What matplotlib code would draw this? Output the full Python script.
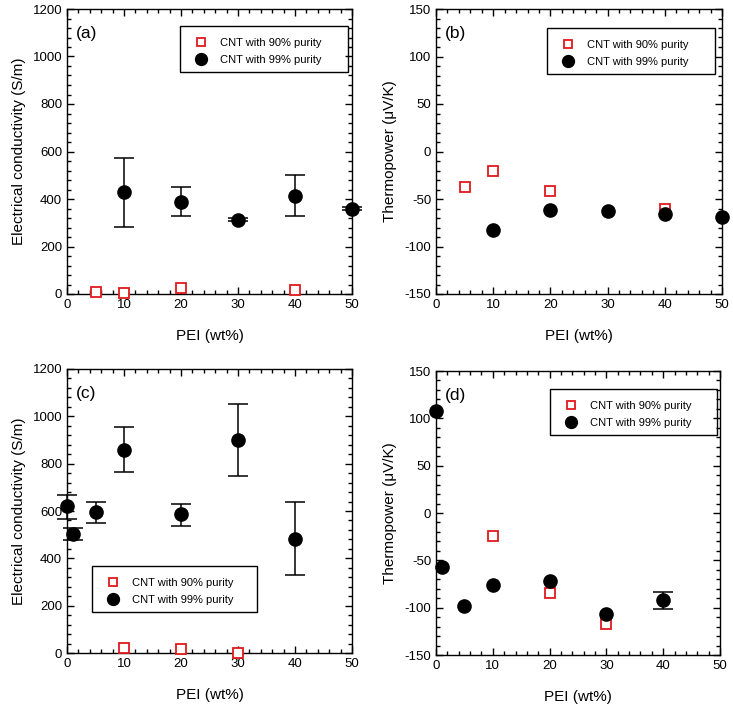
import numpy as np
import matplotlib
matplotlib.use("Agg")
import matplotlib.pyplot as plt
from matplotlib.ticker import MultipleLocator
from matplotlib.patches import Rectangle

plt.rcParams['font.family'] = ['Liberation Sans', 'DejaVu Sans']
plt.rcParams['axes.unicode_minus'] = False

# (a) electrical conductivity
a_x90 = [5, 10, 20, 40]
a_y90 = [8, 3, 25, 18]
a_x99 = [10, 20, 30, 40, 50]
a_y99 = [428, 389, 312, 414, 359]
a_lo99 = [147, 62, 6, 87, 6]
a_hi99 = [143, 60, 6, 87, 6]

# (b) thermopower
b_x90 = [5, 10, 20, 40]
b_y90 = [-37, -21, -42, -60]
b_x99 = [10, 20, 30, 40, 50]
b_y99 = [-83, -62, -63, -66, -69]

# (c) electrical conductivity
c_x90 = [10, 20, 30]
c_y90 = [22, 15, 0]
c_x99 = [0, 1, 5, 10, 20, 30, 40]
c_y99 = [621, 503, 594, 858, 586, 901, 483]
c_lo99 = [55, 27, 43, 94, 48, 153, 153]
c_hi99 = [48, 24, 43, 96, 44, 152, 155]

# (d) thermopower
d_x90 = [10, 20, 30]
d_y90 = [-24, -84, -117]
d_x99 = [0, 1, 5, 10, 20, 30, 40]
d_y99 = [108, -57, -98, -76, -72, -107, -92]
d_lo99 = [0, 0, 0, 0, 0, 0, 9]
d_hi99 = [0, 0, 0, 0, 0, 0, 9]

W, H = 733, 709
fig = plt.figure(figsize=(W / 100, H / 100), dpi=100)


def px_axes(left, top, right, bottom):
    ax = fig.add_axes([left / W, 1 - bottom / H, (right - left) / W, (bottom - top) / H])
    ax.px = (left, top, right, bottom)
    return ax


def to_axes(ax, x, y):
    l, t, r, b = ax.px
    return (x - l) / (r - l), (b - y) / (b - t)


def style(ax, ylim, ymaj, ymin, ylabel, tag):
    ax.set_xlim(0, 50)
    ax.set_ylim(*ylim)
    ax.xaxis.set_major_locator(MultipleLocator(10))
    ax.xaxis.set_minor_locator(MultipleLocator(2))
    ax.yaxis.set_major_locator(MultipleLocator(ymaj))
    ax.yaxis.set_minor_locator(MultipleLocator(ymin))
    ax.tick_params(which='both', direction='in', top=True, right=True, labelsize=9.5, width=1)
    ax.tick_params(which='major', length=5)
    ax.tick_params(which='minor', length=3)
    for s in ax.spines.values():
        s.set_linewidth(1)
    ax.set_xlabel('PEI (wt%)', fontsize=11, labelpad=13)
    ax.set_ylabel(ylabel, fontsize=11, labelpad=5)
    ax.text(0.032, 0.915, tag, transform=ax.transAxes, fontsize=12.5, va='center', ha='left')


def draw(ax, x90, y90, x99, y99, lo=None, hi=None):
    ax.plot(x90, y90, 's', ms=7, mfc='white', mec='#e0191b', mew=1.3, clip_on=False, zorder=4,
            label='CNT with 90% purity')
    if lo is not None:
        keep = [i for i in range(len(x99)) if lo[i] > 0]
        ax.errorbar([x99[i] for i in keep], [y99[i] for i in keep],
                    yerr=[[lo[i] for i in keep], [hi[i] for i in keep]], fmt='none',
                    ecolor='black', elinewidth=1.1, capsize=7, capthick=1.1,
                    clip_on=False, zorder=3)
    ax.plot(x99, y99, 'o', ms=9.5, color='black', clip_on=False, zorder=5,
            label='CNT with 99% purity')


def legend(ax, box):
    l, t, r, b = box
    x0, y0 = to_axes(ax, l, b)
    x1, y1 = to_axes(ax, r, t)
    ax.add_patch(Rectangle((x0, y0), x1 - x0, y1 - y0, transform=ax.transAxes,
                           fill=False, edgecolor='black', linewidth=1, zorder=6, clip_on=False))
    ax.legend(loc='upper left', bbox_to_anchor=to_axes(ax, l + 12, t + 12), fontsize=8,
              frameon=False, borderpad=0, borderaxespad=0, handlelength=1.6,
              handletextpad=0.95, labelspacing=0.6, markerscale=0.9)


cond_label = 'Electrical conductivity (S/m)'
tp_label = 'Thermopower (\u03bcV/K)'

ax_a = px_axes(67, 9, 352, 294)
draw(ax_a, a_x90, a_y90, a_x99, a_y99, a_lo99, a_hi99)
style(ax_a, (0, 1200), 200, 40, cond_label, '(a)')
legend(ax_a, (180, 26, 348, 72))

ax_b = px_axes(436, 9, 722, 294)
draw(ax_b, b_x90, b_y90, b_x99, b_y99)
style(ax_b, (-150, 150), 50, 10, tp_label, '(b)')
legend(ax_b, (547, 28, 715, 74))

ax_c = px_axes(67, 369, 352, 653)
draw(ax_c, c_x90, c_y90, c_x99, c_y99, c_lo99, c_hi99)
style(ax_c, (0, 1200), 200, 40, cond_label, '(c)')
legend(ax_c, (92, 566, 257, 612))

ax_d = px_axes(436, 371, 720, 655)
draw(ax_d, d_x90, d_y90, d_x99, d_y99, d_lo99, d_hi99)
style(ax_d, (-150, 150), 50, 10, tp_label, '(d)')
legend(ax_d, (550, 389, 717, 435))

fig.savefig('out.png', dpi=100)
